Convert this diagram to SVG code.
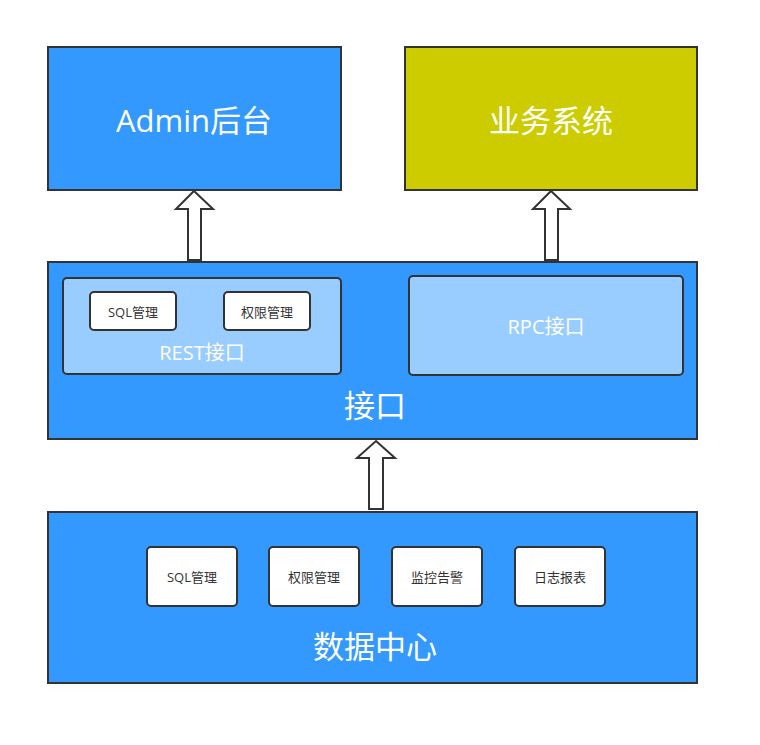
<svg xmlns="http://www.w3.org/2000/svg" width="760" height="745" viewBox="0 0 760 745">
<style>
text{font-family:"Open Sans","Noto Sans CJK SC",sans-serif;text-anchor:middle;dominant-baseline:central}
.big{fill:#3399ff;stroke:#333;stroke-width:2}
.yel{fill:#cccc00;stroke:#333;stroke-width:2}
.sub{fill:#99ccff;stroke:#333;stroke-width:2}
.small{fill:#fff;stroke:#333;stroke-width:2}
.t1{fill:#fff;font-size:31px}
.t2{fill:#fff;font-size:20px}
.t3{fill:#333;font-size:13px}
.arr{fill:#fff;stroke:#333;stroke-width:2;stroke-linejoin:miter}
</style>
<rect width="760" height="745" fill="#fff"/>
<g id="admin"><rect class="big" x="48" y="47" width="293" height="143"/><text class="t1" x="194" y="120">Admin后台</text></g>
<g id="biz"><rect class="yel" x="405" y="47" width="292" height="143"/><text class="t1" x="551" y="120">业务系统</text></g>
<g id="api"><rect class="big" x="48" y="262" width="649" height="177"/><text class="t1" x="375" y="405">接口</text></g>
<g id="rest"><rect class="sub" x="63" y="278" width="278" height="96" rx="4"/><text class="t2" x="202" y="352">REST接口</text></g>
<g id="rest-sql"><rect class="small" x="90" y="292" width="86" height="38" rx="4"/><text class="t3" x="133" y="312">SQL管理</text></g>
<g id="rest-perm"><rect class="small" x="224" y="292" width="86" height="38" rx="4"/><text class="t3" x="267" y="312">权限管理</text></g>
<g id="rpc"><rect class="sub" x="409" y="276" width="274" height="99" rx="4"/><text class="t2" x="546" y="326">RPC接口</text></g>
<g id="dc"><rect class="big" x="48" y="512" width="649" height="171"/><text class="t1" x="375" y="646">数据中心</text></g>
<g id="dc-sql"><rect class="small" x="147" y="547" width="90" height="59" rx="4"/><text class="t3" x="192" y="577">SQL管理</text></g>
<g id="dc-perm"><rect class="small" x="269" y="547" width="90" height="59" rx="4"/><text class="t3" x="314" y="577">权限管理</text></g>
<g id="dc-mon"><rect class="small" x="392" y="547" width="90" height="59" rx="4"/><text class="t3" x="437" y="577">监控告警</text></g>
<g id="dc-log"><rect class="small" x="515" y="547" width="90" height="59" rx="4"/><text class="t3" x="560" y="577">日志报表</text></g>
<g id="connectors">
<path class="arr" d="M194 191 L213 209 L201 209 L201 260 L188 260 L188 209 L176 209 Z"/>
<path class="arr" d="M551 191 L570 209 L558 209 L558 260 L545 260 L545 209 L533 209 Z"/>
<path class="arr" d="M376 441 L395 458 L383 458 L383 509 L369 509 L369 458 L357 458 Z"/>
</g>
</svg>
